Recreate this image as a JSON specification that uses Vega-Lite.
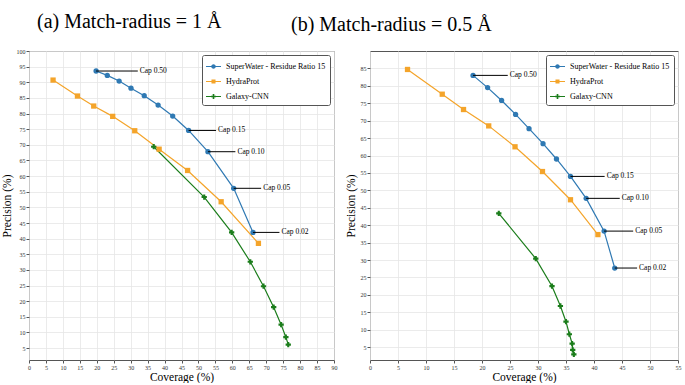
{
  "$schema": "https://vega.github.io/schema/vega-lite/v6.json",
  "background": "white",
  "padding": {"left": 0, "top": 11, "right": 6, "bottom": 0},
  "bounds": "flush",
  "spacing": 36,
  "datasets": {
    "leftPts": [
      {"series": "SuperWater - Residue Ratio 15", "x": 19.8, "y": 93.6},
      {"series": "SuperWater - Residue Ratio 15", "x": 23.1, "y": 92.2},
      {"series": "SuperWater - Residue Ratio 15", "x": 26.6, "y": 90.4},
      {"series": "SuperWater - Residue Ratio 15", "x": 30.1, "y": 88.1},
      {"series": "SuperWater - Residue Ratio 15", "x": 34.0, "y": 85.7},
      {"series": "SuperWater - Residue Ratio 15", "x": 38.1, "y": 82.7},
      {"series": "SuperWater - Residue Ratio 15", "x": 42.4, "y": 79.2},
      {"series": "SuperWater - Residue Ratio 15", "x": 47.1, "y": 74.6},
      {"series": "SuperWater - Residue Ratio 15", "x": 52.8, "y": 67.8},
      {"series": "SuperWater - Residue Ratio 15", "x": 60.4, "y": 56.1},
      {"series": "SuperWater - Residue Ratio 15", "x": 66.1, "y": 42.0},
      {"series": "HydraProt", "x": 7.1, "y": 90.7},
      {"series": "HydraProt", "x": 14.3, "y": 85.6},
      {"series": "HydraProt", "x": 19.1, "y": 82.4},
      {"series": "HydraProt", "x": 24.7, "y": 79.1},
      {"series": "HydraProt", "x": 31.2, "y": 74.5},
      {"series": "HydraProt", "x": 38.4, "y": 68.6},
      {"series": "HydraProt", "x": 46.8, "y": 61.8},
      {"series": "HydraProt", "x": 56.7, "y": 51.8},
      {"series": "HydraProt", "x": 67.7, "y": 38.5},
      {"series": "Galaxy-CNN", "x": 36.8, "y": 69.4},
      {"series": "Galaxy-CNN", "x": 51.7, "y": 53.3},
      {"series": "Galaxy-CNN", "x": 59.8, "y": 42.0},
      {"series": "Galaxy-CNN", "x": 65.3, "y": 32.6},
      {"series": "Galaxy-CNN", "x": 69.2, "y": 24.8},
      {"series": "Galaxy-CNN", "x": 72.2, "y": 18.1},
      {"series": "Galaxy-CNN", "x": 74.4, "y": 12.5},
      {"series": "Galaxy-CNN", "x": 75.8, "y": 8.5},
      {"series": "Galaxy-CNN", "x": 76.5, "y": 6.1}
    ],
    "leftAnn": [
      {"label": "Cap 0.50", "x": 19.8, "y": 93.6, "lx": 32.1},
      {"label": "Cap 0.15", "x": 47.1, "y": 74.6, "lx": 55.2},
      {"label": "Cap 0.10", "x": 52.8, "y": 67.8, "lx": 60.9},
      {"label": "Cap 0.05", "x": 60.4, "y": 56.1, "lx": 68.5},
      {"label": "Cap 0.02", "x": 66.1, "y": 42.0, "lx": 73.9}
    ],
    "rightPts": [
      {"series": "SuperWater - Residue Ratio 15", "x": 18.4, "y": 83.0},
      {"series": "SuperWater - Residue Ratio 15", "x": 21.0, "y": 79.5},
      {"series": "SuperWater - Residue Ratio 15", "x": 23.5, "y": 75.8},
      {"series": "SuperWater - Residue Ratio 15", "x": 26.0, "y": 71.8},
      {"series": "SuperWater - Residue Ratio 15", "x": 28.4, "y": 67.7},
      {"series": "SuperWater - Residue Ratio 15", "x": 30.9, "y": 63.4},
      {"series": "SuperWater - Residue Ratio 15", "x": 33.3, "y": 59.0},
      {"series": "SuperWater - Residue Ratio 15", "x": 35.8, "y": 54.0},
      {"series": "SuperWater - Residue Ratio 15", "x": 38.6, "y": 47.7},
      {"series": "SuperWater - Residue Ratio 15", "x": 41.8, "y": 38.3},
      {"series": "SuperWater - Residue Ratio 15", "x": 43.7, "y": 27.7},
      {"series": "HydraProt", "x": 6.7, "y": 84.7},
      {"series": "HydraProt", "x": 12.9, "y": 77.6},
      {"series": "HydraProt", "x": 16.7, "y": 73.2},
      {"series": "HydraProt", "x": 21.2, "y": 68.5},
      {"series": "HydraProt", "x": 25.9, "y": 62.5},
      {"series": "HydraProt", "x": 30.8, "y": 55.4},
      {"series": "HydraProt", "x": 35.8, "y": 47.3},
      {"series": "HydraProt", "x": 40.7, "y": 37.3},
      {"series": "Galaxy-CNN", "x": 23.0, "y": 43.4},
      {"series": "Galaxy-CNN", "x": 29.6, "y": 30.4},
      {"series": "Galaxy-CNN", "x": 32.5, "y": 22.5},
      {"series": "Galaxy-CNN", "x": 34.0, "y": 16.8},
      {"series": "Galaxy-CNN", "x": 35.0, "y": 12.3},
      {"series": "Galaxy-CNN", "x": 35.6, "y": 8.7},
      {"series": "Galaxy-CNN", "x": 36.1, "y": 6.0},
      {"series": "Galaxy-CNN", "x": 36.2, "y": 4.2},
      {"series": "Galaxy-CNN", "x": 36.4, "y": 2.9}
    ],
    "rightAnn": [
      {"label": "Cap 0.50", "x": 18.4, "y": 83.0, "lx": 24.6},
      {"label": "Cap 0.15", "x": 35.8, "y": 54.0, "lx": 41.9},
      {"label": "Cap 0.10", "x": 38.6, "y": 47.7, "lx": 44.6},
      {"label": "Cap 0.05", "x": 41.8, "y": 38.3, "lx": 47.0},
      {"label": "Cap 0.02", "x": 43.7, "y": 27.7, "lx": 47.7}
    ]
  },
  "hconcat": [
    {
      "width": 305,
      "height": 309,
      "title": {"text": "(a) Match-radius = 1 Å", "anchor": "start", "dx": 36, "offset": 16},
      "resolve": {"scale": {"color": "independent", "shape": "independent"}},
      "layer": [
        {
          "data": {"name": "leftPts"},
          "mark": {"type": "line", "strokeWidth": 1.2},
          "encoding": {
            "x": {"field": "x", "type": "quantitative", "scale": {"domain": [0, 90], "nice": false, "zero": false},
                  "axis": {"title": "Coverage (%)", "values": [0,5,10,15,20,25,30,35,40,45,50,55,60,65,70,75,80,85,90]}},
            "y": {"field": "y", "type": "quantitative", "scale": {"domain": [1.2, 100], "nice": false, "zero": false},
                  "axis": {"title": "Precision (%)", "values": [5,10,15,20,25,30,35,40,45,50,55,60,65,70,75,80,85,90,95,100]}},
            "color": {"field": "series", "type": "nominal", "legend": null,
                      "scale": {"domain": ["SuperWater - Residue Ratio 15", "HydraProt", "Galaxy-CNN"], "range": ["#2f79b3", "#f4a42a", "#1b7d1b"]}}
          }
        },
        {
          "data": {"name": "leftPts"},
          "mark": {"type": "point", "filled": true, "opacity": 1, "size": 28},
          "encoding": {
            "x": {"field": "x", "type": "quantitative", "axis": {"title": "Coverage (%)", "values": [0,5,10,15,20,25,30,35,40,45,50,55,60,65,70,75,80,85,90]}},
            "y": {"field": "y", "type": "quantitative", "axis": {"title": "Precision (%)", "values": [5,10,15,20,25,30,35,40,45,50,55,60,65,70,75,80,85,90,95,100]}},
            "color": {"field": "series", "type": "nominal", "legend": null,
                      "scale": {"domain": ["SuperWater - Residue Ratio 15", "HydraProt", "Galaxy-CNN"], "range": ["#2f79b3", "#f4a42a", "#1b7d1b"]}},
            "shape": {"field": "series", "type": "nominal", "legend": null,
                      "scale": {"domain": ["SuperWater - Residue Ratio 15", "HydraProt", "Galaxy-CNN"], "range": ["circle", "square", "cross"]}}
          }
        },
        {
          "data": {"name": "leftAnn"},
          "mark": {"type": "rule", "color": "black", "strokeWidth": 1},
          "encoding": {
            "x": {"field": "x", "type": "quantitative", "axis": {"title": "Coverage (%)", "values": [0,5,10,15,20,25,30,35,40,45,50,55,60,65,70,75,80,85,90]}},
            "x2": {"field": "lx"},
            "y": {"field": "y", "type": "quantitative", "axis": {"title": "Precision (%)", "values": [5,10,15,20,25,30,35,40,45,50,55,60,65,70,75,80,85,90,95,100]}}
          }
        },
        {
          "data": {"name": "leftAnn"},
          "mark": {"type": "text", "align": "left", "baseline": "middle", "dx": 2, "font": "Liberation Serif", "fontSize": 7.5, "color": "black"},
          "encoding": {
            "x": {"field": "lx", "type": "quantitative", "axis": {"title": "Coverage (%)", "values": [0,5,10,15,20,25,30,35,40,45,50,55,60,65,70,75,80,85,90]}},
            "y": {"field": "y", "type": "quantitative", "axis": {"title": "Precision (%)", "values": [5,10,15,20,25,30,35,40,45,50,55,60,65,70,75,80,85,90,95,100]}},
            "text": {"field": "label"}
          }
        },
        {
          "data": {"name": "leftPts"},
          "transform": [{"filter": "datum.x < -1000"}],
          "mark": {"type": "point", "filled": true, "opacity": 1},
          "encoding": {
            "x": {"field": "x", "type": "quantitative", "axis": {"title": "Coverage (%)", "values": [0,5,10,15,20,25,30,35,40,45,50,55,60,65,70,75,80,85,90]}},
            "y": {"field": "y", "type": "quantitative", "axis": {"title": "Precision (%)", "values": [5,10,15,20,25,30,35,40,45,50,55,60,65,70,75,80,85,90,95,100]}},
            "color": {"field": "series", "type": "nominal",
                      "scale": {"domain": ["SuperWater - Residue Ratio 15", "HydraProt", "Galaxy-CNN"], "range": ["#2f79b3", "#f4a42a", "#1b7d1b"]},
                      "legend": {"title": null, "orient": "top-right", "offset": 4}},
            "shape": {"field": "series", "type": "nominal",
                      "scale": {"domain": ["SuperWater - Residue Ratio 15", "HydraProt", "Galaxy-CNN"],
                                "range": ["M-1,-0.07H1V0.07H-1Z M0.3,0A0.3,0.3 0 1,1 -0.3,0A0.3,0.3 0 1,1 0.3,0Z",
                                          "M-1,-0.07H1V0.07H-1Z M-0.27,-0.27H0.27V0.27H-0.27Z",
                                          "M-1,-0.07H1V0.07H-1Z M-0.11,-0.33H0.11V-0.11H0.33V0.11H0.11V0.33H-0.11V0.11H-0.33V-0.11H-0.11Z"]},
                      "legend": {"title": null, "orient": "top-right", "offset": 4}}
          }
        }
      ]
    },
    {
      "width": 308,
      "height": 309,
      "title": {"text": "(b) Match-radius = 0.5 Å", "anchor": "start", "dx": -54, "offset": 16},
      "resolve": {"scale": {"color": "independent", "shape": "independent"}},
      "layer": [
        {
          "data": {"name": "rightPts"},
          "mark": {"type": "line", "strokeWidth": 1.2},
          "encoding": {
            "x": {"field": "x", "type": "quantitative", "scale": {"domain": [0, 55], "nice": false, "zero": false},
                  "axis": {"title": "Coverage (%)", "values": [0,5,10,15,20,25,30,35,40,45,50,55]}},
            "y": {"field": "y", "type": "quantitative", "scale": {"domain": [1.3, 90], "nice": false, "zero": false},
                  "axis": {"title": "Precision (%)", "values": [5,10,15,20,25,30,35,40,45,50,55,60,65,70,75,80,85]}},
            "color": {"field": "series", "type": "nominal", "legend": null,
                      "scale": {"domain": ["SuperWater - Residue Ratio 15", "HydraProt", "Galaxy-CNN"], "range": ["#2f79b3", "#f4a42a", "#1b7d1b"]}}
          }
        },
        {
          "data": {"name": "rightPts"},
          "mark": {"type": "point", "filled": true, "opacity": 1, "size": 28},
          "encoding": {
            "x": {"field": "x", "type": "quantitative", "axis": {"title": "Coverage (%)", "values": [0,5,10,15,20,25,30,35,40,45,50,55]}},
            "y": {"field": "y", "type": "quantitative", "axis": {"title": "Precision (%)", "values": [5,10,15,20,25,30,35,40,45,50,55,60,65,70,75,80,85]}},
            "color": {"field": "series", "type": "nominal", "legend": null,
                      "scale": {"domain": ["SuperWater - Residue Ratio 15", "HydraProt", "Galaxy-CNN"], "range": ["#2f79b3", "#f4a42a", "#1b7d1b"]}},
            "shape": {"field": "series", "type": "nominal", "legend": null,
                      "scale": {"domain": ["SuperWater - Residue Ratio 15", "HydraProt", "Galaxy-CNN"], "range": ["circle", "square", "cross"]}}
          }
        },
        {
          "data": {"name": "rightAnn"},
          "mark": {"type": "rule", "color": "black", "strokeWidth": 1},
          "encoding": {
            "x": {"field": "x", "type": "quantitative", "axis": {"title": "Coverage (%)", "values": [0,5,10,15,20,25,30,35,40,45,50,55]}},
            "x2": {"field": "lx"},
            "y": {"field": "y", "type": "quantitative", "axis": {"title": "Precision (%)", "values": [5,10,15,20,25,30,35,40,45,50,55,60,65,70,75,80,85]}}
          }
        },
        {
          "data": {"name": "rightAnn"},
          "mark": {"type": "text", "align": "left", "baseline": "middle", "dx": 2, "font": "Liberation Serif", "fontSize": 7.5, "color": "black"},
          "encoding": {
            "x": {"field": "lx", "type": "quantitative", "axis": {"title": "Coverage (%)", "values": [0,5,10,15,20,25,30,35,40,45,50,55]}},
            "y": {"field": "y", "type": "quantitative", "axis": {"title": "Precision (%)", "values": [5,10,15,20,25,30,35,40,45,50,55,60,65,70,75,80,85]}},
            "text": {"field": "label"}
          }
        },
        {
          "data": {"name": "rightPts"},
          "transform": [{"filter": "datum.x < -1000"}],
          "mark": {"type": "point", "filled": true, "opacity": 1},
          "encoding": {
            "x": {"field": "x", "type": "quantitative", "axis": {"title": "Coverage (%)", "values": [0,5,10,15,20,25,30,35,40,45,50,55]}},
            "y": {"field": "y", "type": "quantitative", "axis": {"title": "Precision (%)", "values": [5,10,15,20,25,30,35,40,45,50,55,60,65,70,75,80,85]}},
            "color": {"field": "series", "type": "nominal",
                      "scale": {"domain": ["SuperWater - Residue Ratio 15", "HydraProt", "Galaxy-CNN"], "range": ["#2f79b3", "#f4a42a", "#1b7d1b"]},
                      "legend": {"title": null, "orient": "top-right", "offset": 4}},
            "shape": {"field": "series", "type": "nominal",
                      "scale": {"domain": ["SuperWater - Residue Ratio 15", "HydraProt", "Galaxy-CNN"],
                                "range": ["M-1,-0.07H1V0.07H-1Z M0.3,0A0.3,0.3 0 1,1 -0.3,0A0.3,0.3 0 1,1 0.3,0Z",
                                          "M-1,-0.07H1V0.07H-1Z M-0.27,-0.27H0.27V0.27H-0.27Z",
                                          "M-1,-0.07H1V0.07H-1Z M-0.11,-0.33H0.11V-0.11H0.33V0.11H0.11V0.33H-0.11V0.11H-0.33V-0.11H-0.11Z"]},
                      "legend": {"title": null, "orient": "top-right", "offset": 4}}
          }
        }
      ]
    }
  ],
  "config": {
    "font": "Liberation Serif",
    "view": {"stroke": "#555555", "strokeWidth": 1},
    "title": {"font": "Liberation Serif", "fontSize": 20, "fontWeight": "normal", "color": "black"},
    "axis": {
      "domain": false,
      "grid": true,
      "gridColor": "#e6e6e6",
      "gridWidth": 0.8,
      "tickColor": "#555555",
      "tickSize": 3,
      "labelOverlap": false,
      "labelFont": "Liberation Serif",
      "labelFontSize": 6,
      "labelColor": "#333333",
      "labelPadding": 1,
      "titleFont": "Liberation Serif",
      "titleFontSize": 11.5,
      "titleFontWeight": "normal",
      "titleColor": "black"
    },
    "axisX": {"titlePadding": 1, "labelFlush": false},
    "axisY": {"titlePadding": 4, "labelFlush": false},
    "legend": {
      "labelFont": "Liberation Serif",
      "labelFontSize": 8,
      "labelColor": "black",
      "symbolSize": 225,
      "symbolStrokeWidth": 0,
      "labelOffset": 5,
      "rowPadding": 3,
      "padding": 4,
      "strokeColor": "#555555",
      "fillColor": "white",
      "cornerRadius": 2,
      "labelLimit": 300
    }
  }
}
